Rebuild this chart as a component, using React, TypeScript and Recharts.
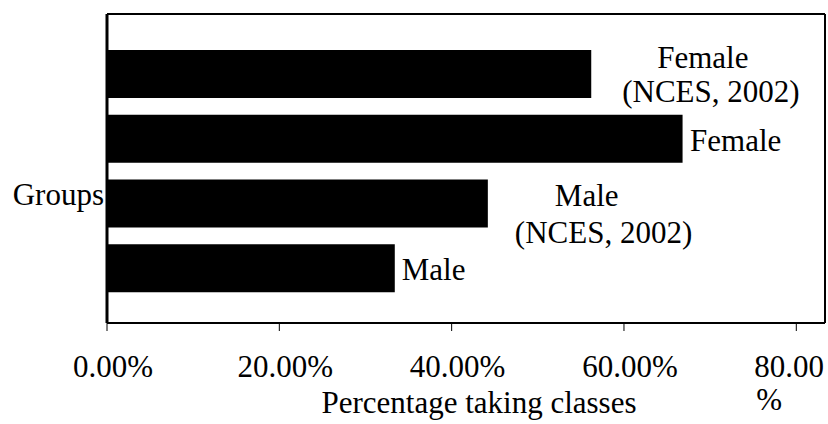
import React from "react";
import { BarChart, Bar, XAxis, YAxis, LabelList } from "recharts";

// ---- data ----
const categories = ["Female (NCES, 2002)", "Female", "Male (NCES, 2002)", "Male"];
const values = [0.562, 0.668, 0.442, 0.334];
const labelLines = [["Female", "(NCES, 2002)"], ["Female"], ["Male", "(NCES, 2002)"], ["Male"]];
const xTicks = [0, 0.2, 0.4, 0.6, 0.8];
const xTitle = "Percentage taking classes";
const yTitle = "Groups";

const data = categories.map((name, i) => ({ name, value: values[i] }));

// ---- styles ----
const FONT = "'Liberation Serif', 'Times New Roman', serif";
const FS = 31;
const labelOffsets = [
  [{ dx: 66, dy: 18 }, { dx: 31, dy: 52 }],
  [{ dx: 7.5, dy: 36 }],
  [{ dx: 67, dy: 26 }, { dx: 27, dy: 63 }],
  [{ dx: 7, dy: 36 }],
];

const fmt = (v: number) => `${(v * 100).toFixed(2)}%`;

const renderBarLabel = (props: any) => {
  const x = Number(props.x), y = Number(props.y), w = Number(props.width);
  const idx = categories.indexOf(props.value);
  if (idx < 0) return null;
  const end = x + w;
  return (
    <g>
      {labelLines[idx].map((line, j) => (
        <text key={j} x={end + labelOffsets[idx][j].dx} y={y + labelOffsets[idx][j].dy}
          fontFamily={FONT} fontSize={FS} fill="#000" textAnchor="start">
          {line}
        </text>
      ))}
    </g>
  );
};

const XTick = (props: any) => {
  const { x, y, payload, index } = props;
  const label = fmt(payload.value);
  const isLast = index === xTicks.length - 1;
  if (isLast) {
    const parts = [label.slice(0, -1), "%"];
    return (
      <g>
        <text x={x - 42} y={y + 22} fontFamily={FONT} fontSize={FS} fill="#000" textAnchor="start">{parts[0]}</text>
        <text x={x - 40} y={y + 55} fontFamily={FONT} fontSize={FS} fill="#000" textAnchor="start">{parts[1]}</text>
      </g>
    );
  }
  return (
    <text x={x + 6} y={y + 22} fontFamily={FONT} fontSize={FS} fill="#000" textAnchor="middle">{label}</text>
  );
};

export default function App() {
  return (
    <div style={{ position: "absolute", left: 0, top: 0, width: 828, height: 424, background: "#fff" }}>
      <BarChart width={828} height={424} data={data} layout="vertical"
        margin={{ top: 13, right: 2, bottom: 0, left: 106 }}>
        <XAxis xAxisId="top" orientation="top" type="number" domain={[0, 0.8333]} height={1}
          tick={false} tickLine={false} axisLine={{ stroke: "#000", strokeWidth: 2 }} allowDataOverflow />
        <YAxis yAxisId="right" orientation="right" type="category" dataKey="name" width={1}
          tick={false} tickLine={false} axisLine={{ stroke: "#000", strokeWidth: 2 }} />
        <XAxis type="number" domain={[0, 0.8333]} ticks={xTicks} interval={0} allowDataOverflow
          height={101} tickSize={8} tickMargin={24}
          tickLine={{ stroke: "#000", strokeWidth: 1 }} axisLine={{ stroke: "#000", strokeWidth: 2 }}
          tick={<XTick />}
          label={{
            content: (p: any) => {
              const vb = p.viewBox || {};
              return (
                <text x={vb.x + vb.width / 2 + 13} y={vb.y + 90} fontFamily={FONT} fontSize={FS}
                  fill="#000" textAnchor="middle">{xTitle}</text>
              );
            },
          }} />
        <YAxis type="category" dataKey="name" width={1} tick={false} tickLine={false}
          padding={{ top: 28, bottom: 22 }} axisLine={{ stroke: "#000", strokeWidth: 3 }}
          label={{
            content: (p: any) => {
              const vb = p.viewBox || {};
              return (
                <text x={vb.x + vb.width - 3} y={vb.y + vb.height / 2 + 36.5} fontFamily={FONT} fontSize={FS}
                  fill="#000" textAnchor="end">{yTitle}</text>
              );
            },
          }} />
        <Bar dataKey="value" fill="#000" barSize={48} isAnimationActive={false}>
          <LabelList dataKey="name" content={renderBarLabel} />
        </Bar>
      </BarChart>
    </div>
  );
}
